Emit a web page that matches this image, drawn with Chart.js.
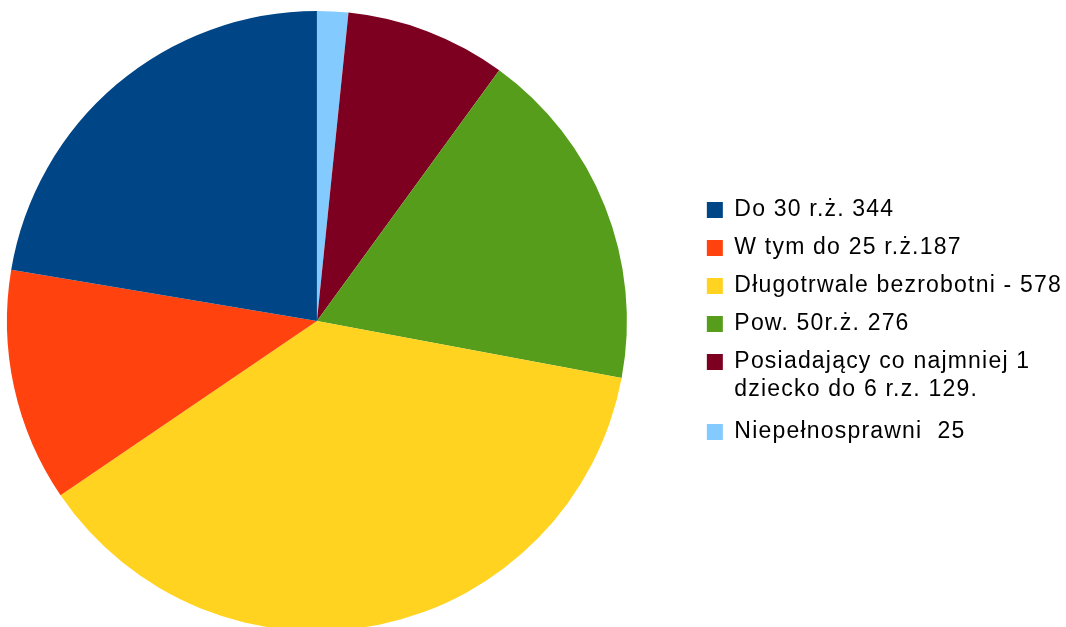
<!DOCTYPE html>
<html>
<head>
<meta charset="utf-8">
<script src="https://cdn.jsdelivr.net/npm/chart.js@4/dist/chart.umd.min.js"></script>
<style>
  html, body { margin: 0; padding: 0; background: #fff; overflow: hidden; }
  #wrap { position: absolute; left: -58px; top: 0; width: 1130px; height: 642px; }
</style>
</head>
<body>
<div id="wrap"><canvas id="pieChart"></canvas></div>
<script>
// clockwise from 12 o'clock; legend is shown reversed
const labels = [
  "Niepełnosprawni  25",
  ["Posiadający co najmniej 1", "dziecko do 6 r.z. 129."],
  "Pow. 50r.ż. 276",
  "Długotrwale bezrobotni - 578",
  "W tym do 25 r.ż.187",
  "Do 30 r.ż. 344"
];
const values = [25, 129, 276, 578, 187, 344];
const colors = ["#83caff", "#7e0021", "#579d1c", "#ffd320", "#ff420e", "#004586"];

// legend text in the original is slightly spaced out
const spacing = {
  id: "spacing",
  beforeLayout(chart) { chart.ctx.letterSpacing = "1.2px"; },
  beforeDraw(chart) { chart.ctx.letterSpacing = "1.2px"; }
};

const ctx = document.getElementById("pieChart");

new Chart(ctx, {
  type: "pie",
  data: {
    labels: labels,
    datasets: [{
      data: values,
      backgroundColor: colors,
      borderWidth: 0,
      hoverOffset: 0
    }]
  },
  options: {
    responsive: true,
    maintainAspectRatio: false,
    animation: false,
    layout: {
      padding: { top: 11, bottom: 11, left: 0, right: 0 }
    },
    plugins: {
      tooltip: { enabled: false },
      legend: {
        position: "right",
        reverse: true,
        labels: {
          color: "#000",
          boxWidth: 16,
          boxHeight: 16,
          padding: 15,
          font: { family: "'Liberation Sans', Arial, sans-serif", size: 23, lineHeight: 1.2 }
        }
      }
    }
  },
  plugins: [spacing]
});
</script>
</body>
</html>
